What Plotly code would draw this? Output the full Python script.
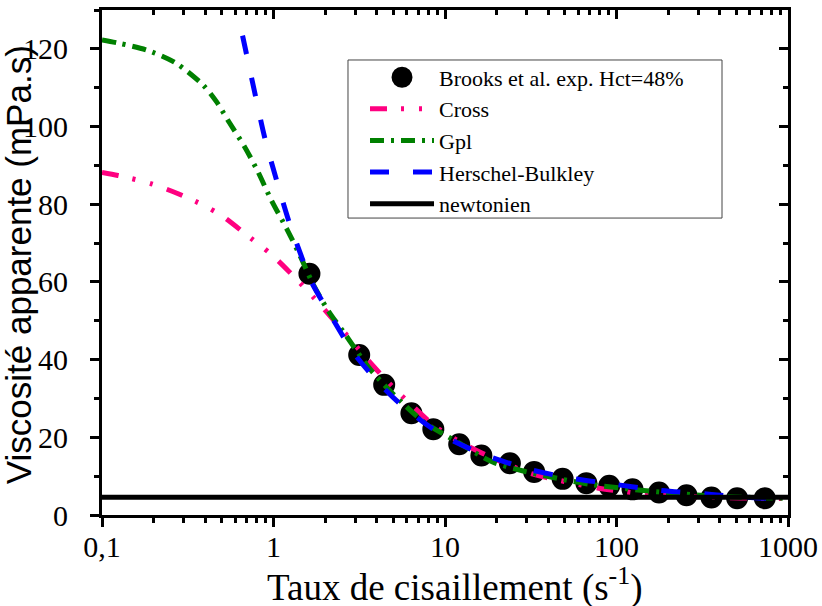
import plotly.graph_objects as go

# Experimental apparent viscosity (Brooks et al., Hct = 48 %)
shear_exp = [1.62, 3.16, 4.42, 6.37, 8.55, 12.1, 16.3, 23.9, 33.1, 48.5,
             66.7, 90.7, 124, 177, 256, 358, 505, 732]
visc_exp = [62.1, 41.2, 33.5, 26.2, 22.1, 18.2, 15.3, 13.3, 11.1, 9.3,
            8.2, 7.5, 6.6, 5.8, 5.1, 4.5, 4.3, 4.3]

# Cross model
shear_cross = [0.1, 0.124, 0.159, 0.199, 0.278, 0.388, 0.497, 0.684, 0.97, 1.23,
               1.69, 2.77, 3.70, 5.05, 6.45, 8.83, 12.6, 16.5, 23.5, 32.2,
               52.6, 78.6, 134, 229, 358, 795, 1000]
visc_cross = [88.2, 87.4, 86.3, 85.1, 82.7, 79.8, 77.1, 72.4, 67.1, 62.7,
              56.3, 45.5, 39.0, 32.6, 28.1, 22.7, 18.5, 15.9, 12.9, 10.6,
              8.4, 6.9, 5.6, 4.9, 4.5, 4.3, 4.2]

# Generalised power law (Gpl)
shear_gpl = [0.1, 0.127, 0.182, 0.266, 0.388, 0.465, 0.555, 0.678, 0.811, 0.97,
             1.19, 1.42, 1.69, 2.07, 2.59, 3.62, 4.95, 7.5, 12.0, 18.8,
             28.2, 40.0, 70.0, 200, 400, 1000]
visc_gpl = [122.3, 121.4, 119.7, 116.5, 110.7, 106.4, 100.9, 94.8, 88.4, 81.1,
            73.8, 67.0, 59.7, 52.8, 46.8, 37.8, 31.3, 24.0, 18.6, 13.7,
            11.4, 9.9, 7.9, 5.7, 4.8, 4.3]

# Herschel-Bulkley model
shear_hb = [0.66, 0.694, 0.775, 0.886, 1.04, 1.24, 1.48, 1.62, 2.12, 3.02,
            5.2, 9.64, 16.5, 30.7, 52.6, 94, 175, 358, 560, 750]
visc_hb = [123.4, 118.9, 109.0, 97.4, 86.3, 75.1, 65.7, 61.0, 51.9, 41.0,
           29.5, 20.6, 15.7, 11.8, 9.6, 8.0, 6.4, 5.3, 4.6, 4.3]

# Newtonian viscosity
shear_newt = [0.1, 1000]
visc_newt = [4.55, 4.55]

x_tickvals = [0.1, 1, 10, 100, 1000]
x_ticktext = ["0,1", "1", "10", "100", "1000"]
x_minor = [m * 10.0 ** e for e in range(-1, 3) for m in range(2, 10)]
y_tickvals = [0, 20, 40, 60, 80, 100, 120]
y_minor = [10, 30, 50, 70, 90, 110, 130]

SERIF = "Times New Roman, Liberation Serif, serif"
SANS = "Arial, Liberation Sans, sans-serif"
PINK = "rgb(255,0,128)"
GREEN = "rgb(0,128,0)"
BLUE = "rgb(0,0,255)"

fig = go.Figure()

fig.add_trace(go.Scatter(
    x=shear_exp, y=visc_exp, mode="markers",
    name="Brooks et al. exp. Hct=48%",
    marker=dict(color="black", size=17, line=dict(color="black", width=5)),
))
fig.add_trace(go.Scatter(
    x=shear_cross, y=visc_cross, mode="lines", name="Cross",
    line=dict(color=PINK, width=5, shape="spline", smoothing=0.8,
              dash="17px,14px,3px,15px,3px,15px"),
))
fig.add_trace(go.Scatter(
    x=shear_gpl, y=visc_gpl, mode="lines", name="Gpl",
    line=dict(color=GREEN, width=5, shape="spline", smoothing=0.8,
              dash="14px,7px,3px,7px"),
))
fig.add_trace(go.Scatter(
    x=shear_hb, y=visc_hb, mode="lines", name="Herschel-Bulkley",
    line=dict(color=BLUE, width=5, shape="spline", smoothing=0.8,
              dash="19px,24px"),
))
fig.add_trace(go.Scatter(
    x=shear_newt, y=visc_newt, mode="lines", name="newtonien",
    line=dict(color="black", width=5),
))
# Same line on the mirrored top/right axes so that their frame and ticks render
fig.add_trace(go.Scatter(
    x=shear_newt, y=visc_newt, xaxis="x2", yaxis="y2", mode="none",
    showlegend=False, hoverinfo="skip",
))

axis_common = dict(showline=True, linecolor="black", linewidth=3,
                   tickcolor="black", tickwidth=3, showgrid=False,
                   zeroline=False, automargin=False)

fig.update_layout(
    width=822, height=606,
    margin=dict(l=102, r=34, t=10, b=91),
    paper_bgcolor="white", plot_bgcolor="white",
    font=dict(family=SERIF, color="black"),
    xaxis=dict(
        type="log", range=[-1, 3], tickvals=x_tickvals, ticktext=x_ticktext,
        ticks="outside", ticklen=9, ticklabelstandoff=-6,
        minor=dict(tickvals=x_minor, ticks="outside", ticklen=5,
                   tickwidth=3, tickcolor="black"),
        tickfont=dict(family=SERIF, size=30, color="black"),
        **axis_common,
    ),
    yaxis=dict(
        range=[0, 130], tickvals=y_tickvals, ticks="outside", ticklen=9,
        ticklabelstandoff=16,
        minor=dict(tickvals=y_minor, ticks="outside", ticklen=5,
                   tickwidth=3, tickcolor="black"),
        tickfont=dict(family=SERIF, size=30, color="black"),
        **axis_common,
    ),
    xaxis2=dict(
        type="log", range=[-1, 3], overlaying="x", side="top", anchor="y",
        tickvals=x_tickvals, ticks="inside", ticklen=9, showticklabels=False,
        minor=dict(tickvals=x_minor, ticks="inside", ticklen=5,
                   tickwidth=3, tickcolor="black"),
        **axis_common,
    ),
    yaxis2=dict(
        range=[0, 130], overlaying="y", side="right", anchor="x",
        tickvals=y_tickvals, ticks="inside", ticklen=9, showticklabels=False,
        minor=dict(tickvals=y_minor, ticks="inside", ticklen=5,
                   tickwidth=3, tickcolor="black"),
        **axis_common,
    ),
    legend=dict(
        x=0.3834, y=0.908, xanchor="left", yanchor="top",
        bgcolor="rgba(0,0,0,0)", borderwidth=0,
        font=dict(family=SERIF, size=22, color="black"),
        itemwidth=64, tracegroupgap=0,
    ),
    shapes=[dict(
        type="rect", xref="paper", yref="paper",
        x0=0.3586, x1=0.9038, y0=0.588, y1=0.901,
        line=dict(color="#444", width=1), fillcolor="white", layer="above",
    )],
    annotations=[
        dict(text="Taux de cisaillement (s<sup>-1</sup>)",
             xref="paper", yref="paper", x=0.5146, y=-0.138,
             xanchor="center", yanchor="middle", showarrow=False,
             font=dict(family=SERIF, size=37, color="black")),
        dict(text="Viscosité apparente (mPa.s)",
             xref="paper", yref="paper", x=-0.1222, y=0.495,
             xanchor="center", yanchor="middle", showarrow=False, textangle=-90,
             font=dict(family=SANS, size=35, color="black")),
    ],
)

fig.write_html("out.html")
